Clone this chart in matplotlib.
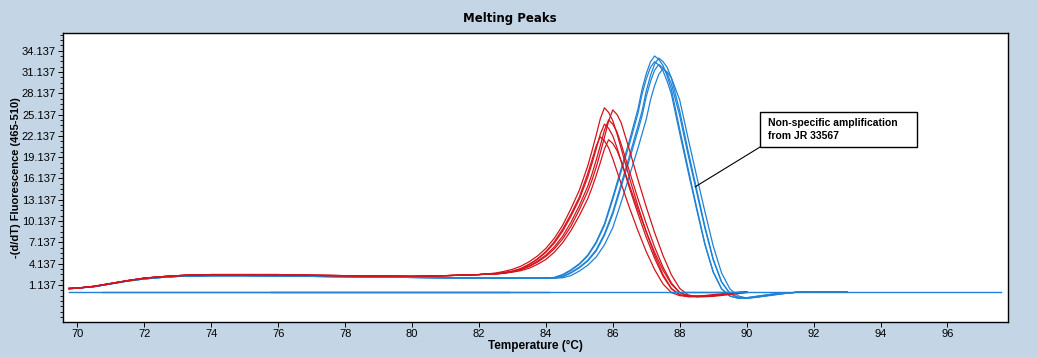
import matplotlib
matplotlib.use('Agg')
import matplotlib.pyplot as plt
from matplotlib.ticker import MultipleLocator
from matplotlib.patches import Rectangle


# shared low-temperature part of the curves (before the melting peaks)
red_base_t = [69.75, 70.0, 70.5, 71.0, 71.5, 72.0, 72.5, 73.0, 73.5, 74.0, 75.0,
              76.0, 77.0, 78.0, 79.0, 80.0, 81.0, 82.0, 82.25]
red_base_v = [0.65, 0.7, 0.95, 1.35, 1.75, 2.1, 2.3, 2.45, 2.55, 2.6, 2.6,
              2.6, 2.5, 2.45, 2.4, 2.35, 2.45, 2.6, 2.7]

red_peak_t = [82.5, 82.75, 83.0, 83.25, 83.5, 83.75, 84.0, 84.25, 84.5, 84.75,
              85.0, 85.25, 85.375, 85.5, 85.625, 85.75, 85.875, 86.0, 86.125, 86.25,
              86.5, 86.75, 87.0, 87.25, 87.5, 87.75, 88.0, 88.25, 88.5, 88.75,
              89.0, 89.25, 89.5, 89.75, 90.0]

red_1 = [2.82, 3.05, 3.34, 3.78, 4.41, 5.22, 6.29, 7.70, 9.53, 11.88,
         14.49, 17.88, 19.97, 22.19, 24.53, 26.10, 25.45, 24.27, 22.45, 20.36,
         16.18, 12.27, 8.61, 5.35, 2.61, 0.65, -0.26, -0.52, -0.52, -0.47,
         -0.34, -0.21, -0.08, 0.08, 0.15]
red_2 = [2.7, 2.79, 3.02, 3.30, 3.74, 4.36, 5.16, 6.22, 7.61, 9.42,
         11.74, 14.32, 15.87, 17.67, 19.74, 21.93, 24.25, 25.80, 25.16, 23.99,
         20.12, 16.00, 12.13, 8.51, 5.29, 2.58, 0.65, -0.26, -0.52, -0.52,
         -0.46, -0.34, -0.21, -0.08, 0.08]
red_3 = [2.7, 2.8, 3.0, 3.32, 3.81, 4.49, 5.34, 6.49, 8.00, 9.96,
         12.32, 15.01, 16.71, 18.67, 20.74, 22.94, 24.40, 23.79, 22.69, 20.98,
         17.08, 13.30, 9.76, 6.47, 3.66, 1.42, 0.07, -0.41, -0.49, -0.46,
         -0.39, -0.24, -0.12, 0.0, 0.12]
red_4 = [2.7, 2.85, 3.05, 3.45, 4.02, 4.76, 5.74, 7.02, 8.69, 10.83,
         13.21, 16.30, 18.21, 20.23, 22.37, 23.80, 23.21, 22.13, 20.47, 18.56,
         14.76, 11.19, 7.85, 4.88, 2.38, 0.60, -0.24, -0.48, -0.48, -0.43,
         -0.31, -0.19, -0.07, 0.07, 0.15]
red_5 = [2.75, 2.9, 3.1, 3.43, 4.05, 4.82, 5.85, 7.22, 8.98, 11.11,
         13.53, 16.83, 18.70, 20.68, 22.00, 21.45, 20.46, 18.92, 17.16, 15.40,
         11.99, 8.80, 5.83, 3.30, 1.28, 0.07, -0.37, -0.44, -0.42, -0.35,
         -0.22, -0.11, 0.0, 0.1, 0.15]
red_6 = [2.7, 2.8, 2.95, 3.15, 3.5, 4.05, 4.73, 5.75, 7.08, 8.81,
         10.91, 13.28, 14.80, 16.52, 18.36, 20.30, 21.60, 21.06, 20.09, 18.58,
         15.12, 11.77, 8.64, 5.72, 3.24, 1.25, 0.06, -0.37, -0.43, -0.41,
         -0.35, -0.22, -0.11, 0.0, 0.12]
red_curves = [red_1, red_2, red_3, red_4, red_5, red_6]

blue_base_t = [69.75, 70.0, 70.5, 71.0, 71.5, 72.0, 72.5, 73.0, 74.0, 75.0, 76.0,
               77.0, 78.0, 79.0, 80.0, 81.0, 82.0, 83.0, 83.5, 83.75]
blue_base_v = [0.6, 0.7, 0.9, 1.3, 1.7, 2.0, 2.2, 2.35, 2.45, 2.45, 2.4,
               2.35, 2.3, 2.25, 2.2, 2.15, 2.1, 2.1, 2.1, 2.1]

blue_peak_t = [84.0, 84.25, 84.5, 84.75, 85.0, 85.25, 85.5, 85.75, 86.0, 86.25,
               86.5, 86.75, 86.875, 87.0, 87.125, 87.25, 87.375, 87.5, 87.625, 87.75,
               88.0, 88.25, 88.5, 88.75, 89.0, 89.25, 89.5, 89.75, 90.0, 90.25,
               90.5, 90.75, 91.0]

blue_1 = [2.10, 2.20, 2.61, 3.27, 4.14, 5.34, 7.18, 9.75, 13.53, 17.54,
          21.54, 25.89, 28.72, 30.90, 32.57, 33.40, 32.90, 32.06, 30.56, 28.72,
          23.05, 17.54, 12.19, 7.01, 3.01, 0.60, -0.43, -0.73, -0.67, -0.50,
          -0.33, -0.17, 0.0]
blue_2 = [2.09, 2.12, 2.35, 2.91, 3.64, 4.63, 6.06, 8.34, 11.42, 15.39,
          19.36, 23.50, 25.65, 28.47, 30.62, 32.27, 33.10, 32.60, 31.78, 30.29,
          25.65, 20.03, 14.73, 9.43, 4.80, 1.59, -0.07, -0.63, -0.73, -0.60,
          -0.43, -0.26, -0.10]
blue_3 = [2.1, 2.15, 2.54, 3.19, 4.04, 5.22, 7.01, 9.52, 13.20, 17.12,
          21.03, 25.27, 28.04, 30.16, 31.79, 32.60, 32.11, 31.30, 29.83, 28.04,
          22.49, 17.12, 11.90, 6.85, 2.93, 0.59, -0.42, -0.72, -0.65, -0.49,
          -0.33, -0.16, 0.0]
blue_4 = [2.1, 2.1, 2.29, 2.83, 3.54, 4.51, 5.89, 8.11, 11.11, 14.97,
          18.84, 22.86, 24.96, 27.69, 29.79, 31.40, 32.20, 31.72, 30.91, 29.46,
          24.96, 19.48, 14.33, 9.18, 4.67, 1.55, -0.06, -0.61, -0.71, -0.58,
          -0.42, -0.26, -0.10]
blue_5 = [2.1, 2.1, 2.15, 2.46, 3.10, 3.92, 5.06, 6.79, 9.23, 12.80,
          16.59, 20.38, 22.44, 24.49, 27.18, 29.23, 30.81, 31.60, 31.13, 30.34,
          27.18, 21.80, 16.59, 11.53, 6.64, 2.84, 0.57, -0.41, -0.70, -0.63,
          -0.47, -0.32, -0.16]
blue_curves = [blue_1, blue_2, blue_3, blue_4, blue_5]

blue_tail_t = [91.25, 91.5, 92.0, 92.5, 93.0]
blue_tail_v = [0.0, 0.12, 0.18, 0.2, 0.2]

# flat (no product) traces
flat_start = [69.75, 70.75, 75.8, 87.7]
flat_end = [97.6, 82.9, 84.1, 90.0]
flat_level = [0.15, 0.17, 0.19, 0.17]

x_ticks = [70, 72, 74, 76, 78, 80, 82, 84, 86, 88, 90, 92, 94, 96]
y_ticks = [1.137, 4.137, 7.137, 10.137, 13.137, 16.137, 19.137, 22.137,
           25.137, 28.137, 31.137, 34.137]
y_tick_labels = ['1.137', '4.137', '7.137', '10.137', '13.137', '16.137',
                 '19.137', '22.137', '25.137', '28.137', '31.137', '34.137']

RED = '#d3141c'
BLUE = '#1f82d5'
BG = '#c4d6e6'


def main():
    plt.rcParams['font.family'] = ['Liberation Sans', 'DejaVu Sans']

    fig = plt.figure(figsize=(10.38, 3.57), dpi=100, facecolor=BG)
    ax = fig.add_axes([0.0607, 0.098, 0.9104, 0.8095])
    ax.set_facecolor('white')

    for v in blue_curves:
        ax.plot(blue_base_t + blue_peak_t + blue_tail_t, blue_base_v + v + blue_tail_v,
                color=BLUE, lw=0.9)
    for v in red_curves:
        ax.plot(red_base_t + red_peak_t, red_base_v + v, color=RED, lw=0.9)
    for s, e, lv in zip(flat_start, flat_end, flat_level):
        ax.plot([s, e], [lv, lv], color=BLUE, lw=1.0)

    ax.set_xlim(69.57, 97.81)
    ax.set_ylim(-4.08, 36.63)
    ax.set_xticks(x_ticks)
    ax.set_yticks(y_ticks)
    ax.set_yticklabels(y_tick_labels)
    ax.yaxis.set_minor_locator(MultipleLocator(0.75, offset=1.137))
    ax.tick_params(axis='both', which='major', labelsize=8, length=3.5, width=0.7,
                   pad=1.5, colors='black')
    ax.tick_params(axis='y', which='minor', length=2, width=0.6)
    for sp in ax.spines.values():
        sp.set_linewidth(1.0)
        sp.set_color('black')

    ax.set_title('Melting Peaks', fontsize=8.5, fontweight='bold', pad=8,
                 x=0.473, family='DejaVu Sans')
    ax.set_xlabel('Temperature (°C)', fontsize=8.5, fontweight='bold', labelpad=1)
    ax.set_ylabel('-(d/dT) Fluorescence (465-510)', fontsize=8, fontweight='bold',
                  labelpad=1)

    # callout box
    ax.add_patch(Rectangle((0.7376, 0.6055), 0.1661, 0.1211, transform=ax.transAxes,
                           facecolor='white', edgecolor='black', lw=1.0, zorder=5))
    ax.text(0.746, 0.666, 'Non-specific amplification\nfrom JR 33567',
            transform=ax.transAxes, fontsize=7.5, fontweight='bold',
            va='center', ha='left', linespacing=1.35, zorder=6)
    ax.annotate('', xy=(88.46, 14.96), xytext=(0.7376, 0.6055),
                textcoords='axes fraction',
                arrowprops=dict(arrowstyle='-', color='black', lw=0.8,
                                shrinkA=0, shrinkB=0))

    fig.savefig('out.png', dpi=100, facecolor=BG)


if __name__ == '__main__':
    main()
